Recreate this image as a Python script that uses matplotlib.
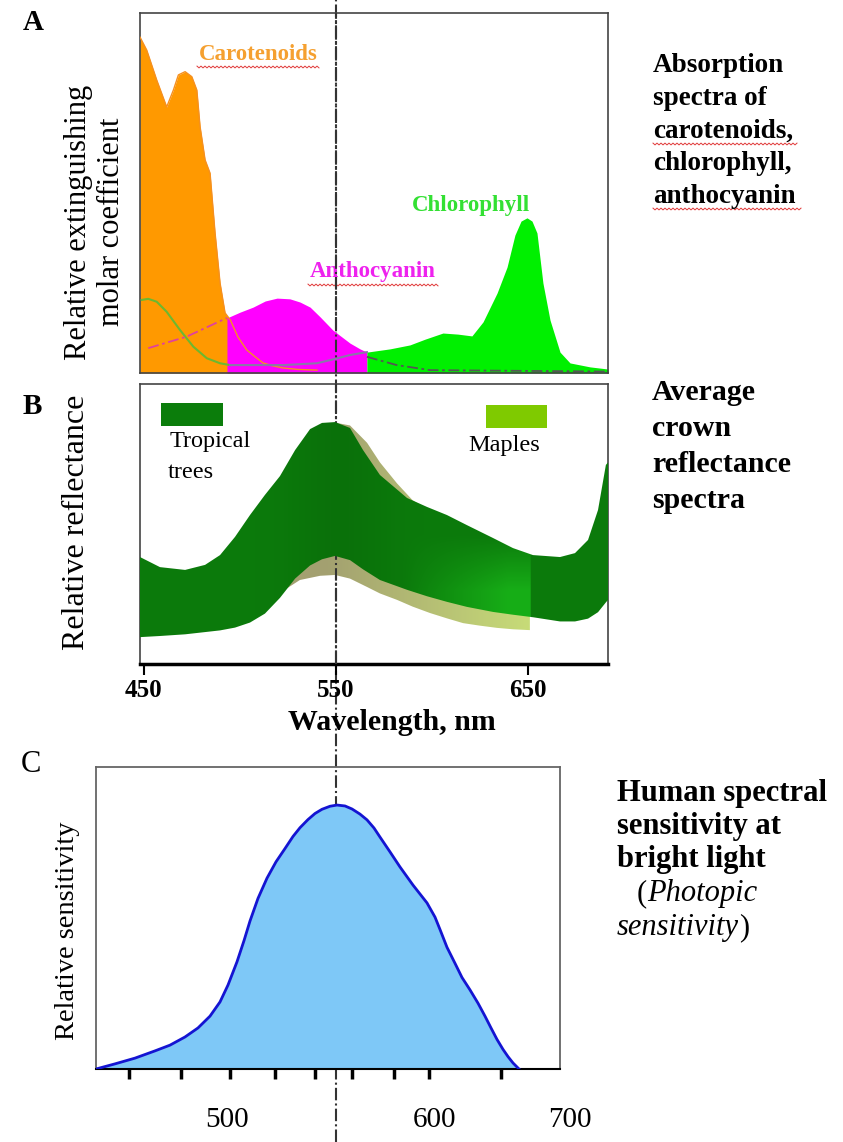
import numpy as np
import matplotlib
matplotlib.use('Agg')
import matplotlib.pyplot as plt
from matplotlib.patches import Rectangle, PathPatch
from matplotlib.transforms import blended_transform_factory

plt.rcParams['font.family'] = ['Liberation Serif', 'DejaVu Serif']

# ---------------- data ----------------
# A: absorption spectra, wavelength in nm, relative extinction 0..1
car_nm = [448, 451.5, 456.7, 461.9, 465.4, 468, 471.5, 475, 477.6, 479.3, 481.9, 484.5,
          487.1, 489.7, 492.3, 495.1, 499, 503.6, 508, 512.1, 517, 522.5, 530, 540.2]
car_val = [0.933, 0.897, 0.814, 0.739, 0.786, 0.828, 0.837, 0.823, 0.786, 0.684, 0.592, 0.555,
           0.389, 0.25, 0.167, 0.147, 0.1, 0.064, 0.045, 0.028, 0.02, 0.014, 0.01, 0.008]

anth_nm = [493.3, 500.1, 506.9, 513.2, 519.4, 526.1, 531.4, 536.6, 541.8, 548.5, 557.4, 562.6, 566.2]
anth_val = [0.153, 0.169, 0.183, 0.2, 0.208, 0.206, 0.197, 0.183, 0.156, 0.119, 0.083, 0.067, 0.058]

chl_nm = [566.2, 578.2, 588.6, 596.5, 605.8, 613.6, 620.9, 626.7, 634, 639.2, 643.3, 646.5,
          649.6, 652.2, 654.8, 657.9, 661.6, 666.8, 672, 682.4, 691.8]
chl_val = [0.058, 0.067, 0.078, 0.094, 0.111, 0.108, 0.103, 0.142, 0.222, 0.294, 0.383, 0.422,
           0.431, 0.422, 0.389, 0.25, 0.147, 0.058, 0.028, 0.017, 0.011]

# thin outlines in A
chl_soret_nm = [448.9, 452.3, 456.7, 461.9, 468.9, 475.8, 482.8, 489.7, 494.9]
chl_soret_val = [0.203, 0.206, 0.198, 0.17, 0.119, 0.073, 0.041, 0.027, 0.022]
chl_mid_nm = [494.9, 507, 522.7, 540.1, 548.7, 557.4, 566.2]
chl_mid_val = [0.022, 0.022, 0.022, 0.027, 0.038, 0.05, 0.058]
anth_left_nm = [452.3, 472.3, 493.3]
anth_left_val = [0.069, 0.101, 0.153]
anth_right_nm = [566.2, 581.7, 599.1, 691.8]
anth_right_val = [0.045, 0.022, 0.008, 0.004]

# B: crown reflectance bands (lower / upper edge)
trop_nm = [448, 458.4, 471.5, 481.9, 489.7, 497.5, 505.3, 513.1, 520.9, 528.8, 536.6, 542.8,
           549.6, 557.4, 564.2, 573, 587.1, 597.5, 607.9, 618.3, 631.9, 642.3, 652.7, 666.8,
           674.6, 681.4, 686.6, 690.7, 691.8]
trop_hi = [0.382, 0.346, 0.336, 0.354, 0.389, 0.454, 0.532, 0.604, 0.671, 0.764, 0.839, 0.861,
           0.864, 0.843, 0.764, 0.675, 0.593, 0.561, 0.532, 0.496, 0.45, 0.414, 0.389, 0.382,
           0.396, 0.443, 0.55, 0.711, 0.72]
trop_lo = [0.096, 0.1, 0.106, 0.114, 0.12, 0.13, 0.148, 0.18, 0.236, 0.305, 0.352, 0.374,
           0.386, 0.371, 0.338, 0.3, 0.265, 0.242, 0.222, 0.204, 0.186, 0.176, 0.167, 0.152,
           0.152, 0.162, 0.185, 0.22, 0.229]

maple_nm = [500, 520.9, 531.3, 541.8, 549.6, 557.4, 566.3, 573, 581.9, 590, 599.1, 607.9,
            616.3, 625, 634, 642.3, 651.1]
maple_hi = [0.3, 0.55, 0.74, 0.835, 0.862, 0.852, 0.79, 0.72, 0.645, 0.585, 0.545, 0.515,
            0.49, 0.46, 0.43, 0.405, 0.38]
maple_lo = [0.15, 0.254, 0.3, 0.315, 0.318, 0.305, 0.275, 0.252, 0.229, 0.205, 0.182, 0.163,
            0.146, 0.137, 0.129, 0.124, 0.121]
b_ticks = [450, 550, 650]

# C: photopic sensitivity
sens_nm = [434.5, 444, 454, 464, 471.5, 479, 485.5, 491.5, 496.5, 500.5, 505, 508.5, 511.5,
           515.5, 520, 524.5, 529, 533, 536.5, 540.5, 544, 547.5, 551.5, 555, 559, 562.5,
           566.5, 570, 573.5, 576.5, 581.5, 586.5, 593, 600, 604, 606.5, 610, 614, 617.5,
           621.5, 625.5, 629, 632, 635, 638, 640.5, 643, 646]
sens_val = [0.0, 0.017, 0.036, 0.06, 0.079, 0.106, 0.136, 0.175, 0.222, 0.278, 0.355, 0.425,
            0.49, 0.565, 0.632, 0.686, 0.73, 0.77, 0.799, 0.826, 0.846, 0.86, 0.87, 0.874,
            0.871, 0.861, 0.844, 0.825, 0.798, 0.768, 0.719, 0.669, 0.609, 0.55, 0.503, 0.462,
            0.403, 0.35, 0.303, 0.262, 0.218, 0.175, 0.136, 0.098, 0.065, 0.041, 0.02, 0.0]
c_ticks = [451, 477, 501.4, 523.8, 544, 562.7, 583.3, 600.8, 636.8]
c_label_nm = [500, 604, 671.5]
c_label_txt = ['500', '600', '700']

ref_nm = 550   # dash-dot reference line

# ---------------- figure ----------------
W, H = 843, 1142
fig = plt.figure(figsize=(W / 100, H / 100), dpi=100)


def px_axes(left, top, right, bottom):
    ax = fig.add_axes([left / W, 1 - bottom / H, (right - left) / W, (bottom - top) / H])
    ax.set_zorder(1)
    ax.patch.set_visible(False)
    return ax


bg = fig.add_axes([0, 0, 1, 1])
bg.set_zorder(0)
bg.set_xlim(0, W)
bg.set_ylim(H, 0)
bg.axis('off')

ax_a = px_axes(140, 13, 608, 373)
ax_b = px_axes(140, 384, 608, 664)
ax_c = px_axes(96, 767, 560, 1069)

dash = (0, (6, 1.5, 1, 1.5))
bg.plot([ref_nm, ref_nm], [0, 1], transform=blended_transform_factory(ax_a.transData, bg.transAxes),
        color='#333333', lw=1.5, ls=dash, clip_on=False)


def wavy(x0, x1, y):
    xs = np.arange(x0, x1, 2.0)
    ys = y + np.where(np.arange(len(xs)) % 2 == 0, -0.9, 0.9)
    bg.plot(xs, ys, color='#E03838', lw=0.7)


def shaded_band(ax, x, lo, hi, colour_fn, zorder):
    band = ax.fill_between(x, lo, hi, facecolor='none', edgecolor='none')
    clip = PathPatch(band.get_paths()[0], transform=ax.transData, facecolor='none', edgecolor='none')
    ax.add_patch(clip)
    gx = np.linspace(x[0], x[-1], 400)
    gy = np.linspace(0, 1, 200)
    X, Y = np.meshgrid(gx, gy)
    im = ax.imshow(colour_fn(X, Y), extent=(gx[0], gx[-1], 0, 1), origin='lower',
                   aspect='auto', interpolation='bilinear', zorder=zorder)
    im.set_clip_path(clip)


# ---------------- panel A ----------------
ax_a.fill_between(car_nm, 0, car_val, color='#FF9900', lw=0, zorder=1)
ax_a.plot(car_nm, car_val, color='#F59020', lw=1, zorder=3)
ax_a.fill_between(anth_nm, 0, anth_val, color='#FF00FF', lw=0, zorder=2)
ax_a.fill_between(chl_nm, 0, chl_val, color='#00F000', lw=0, zorder=2)
ax_a.plot(chl_soret_nm, chl_soret_val, color='#6CB830', lw=1.5, zorder=3)
ax_a.plot(chl_mid_nm, chl_mid_val, color='#8A78A8', lw=1.5, zorder=3)
ax_a.plot(anth_left_nm, anth_left_val, color='#E0409F', lw=1.3, ls=(0, (6, 2, 1.5, 2)), zorder=3)
ax_a.plot(anth_right_nm, anth_right_val, color='#555555', lw=1.3, ls=(0, (6, 2, 1.5, 2)), zorder=3)
ax_a.axvline(ref_nm, color='#333333', lw=1.5, ls=dash, zorder=5)
ax_a.set_xlim(448, 691.8)
ax_a.set_ylim(0, 1)
ax_a.set_xticks([])
ax_a.set_yticks([])
for s in ax_a.spines.values():
    s.set_color('#444444')
    s.set_linewidth(1.2)


# ---------------- panel B ----------------
def maple_colour(X, Y):
    t = np.clip((X - 545) / 105, 0, 1)[..., None]
    left = np.array([0.64, 0.63, 0.44])
    right = np.array([0.78, 0.86, 0.47])
    return left * (1 - t) + right * t


def tropical_colour(X, Y):
    base = np.array([0.045, 0.48, 0.045])
    dark = np.array([0.035, 0.42, 0.035])
    bright = np.array([0.09, 0.68, 0.09])
    d = np.exp(-((X - 552) / 25) ** 2)[..., None] * 0.6
    w = (np.clip((X - 585) / 55, 0, 1) * (X <= 651.5) * np.clip((0.46 - Y) / 0.2, 0, 1))[..., None]
    c = base * (1 - d) + dark * d
    return c * (1 - w) + bright * w


shaded_band(ax_b, maple_nm, maple_lo, maple_hi, maple_colour, 2)
ax_b.axvline(ref_nm, color='#333333', lw=1.5, ls=dash, zorder=3)
shaded_band(ax_b, trop_nm, trop_lo, trop_hi, tropical_colour, 4)
ax_b.set_xlim(448, 691.8)
ax_b.set_ylim(0, 1)
ax_b.set_yticks([])
ax_b.set_xticks(b_ticks)
ax_b.set_xticklabels([str(t) for t in b_ticks], fontsize=18, fontweight='bold')
ax_b.tick_params(axis='x', direction='out', length=8, width=1.5, pad=3)
for s in ['left', 'top', 'right']:
    ax_b.spines[s].set_color('#444444')
    ax_b.spines[s].set_linewidth(1.2)
ax_b.spines['bottom'].set_linewidth(2.5)
ax_b.spines['bottom'].set_color('black')

# legend swatches
bg.add_patch(Rectangle((161, 403), 62, 23, color='#0B7D0B', lw=0))
bg.add_patch(Rectangle((486, 405), 61, 23, color='#7FCA00', lw=0))
bg.text(170, 442, 'Tropical', fontsize=17.5, ha='left', va='center')
bg.text(168, 472, 'trees', fontsize=17.5, ha='left', va='center')
bg.text(468, 445, 'Maples', fontsize=17.5, ha='left', va='center')

# ---------------- panel C ----------------
ax_c.fill_between(sens_nm, 0, sens_val, color='#7EC8F7', lw=0, zorder=2)
ax_c.plot(sens_nm, sens_val, color='#1414D2', lw=2, zorder=3, solid_joinstyle='round')
ax_c.set_xlim(434.5, 666.5)
ax_c.set_ylim(0, 1)
ax_c.set_yticks([])
ax_c.set_xticks(c_ticks)
ax_c.tick_params(axis='x', direction='out', length=7, width=2.5, labelbottom=False)
for s in ['left', 'top', 'right']:
    ax_c.spines[s].set_color('#666666')
    ax_c.spines[s].set_linewidth(1.3)
ax_c.spines['bottom'].set_color('black')
ax_c.spines['bottom'].set_linewidth(1.5)
lab_tr = blended_transform_factory(ax_c.transData, ax_c.transAxes)
for nm, txt in zip(c_label_nm, c_label_txt):
    ax_c.text(nm, -0.169, txt, transform=lab_tr, fontsize=21, ha='center', va='center', clip_on=False)

# ---------------- free text ----------------
bg.text(33, 23, 'A', fontsize=21, fontweight='bold', ha='center', va='center')
bg.text(32, 406, 'B', fontsize=21, fontweight='bold', ha='center', va='center')
bg.text(31, 764, 'C', fontsize=22, ha='center', va='center')

bg.text(95, 222, 'Relative extinguishing\nmolar coefficient', fontsize=22, rotation=90,
        ha='center', va='center', linespacing=1.15)
bg.text(76, 522, 'Relative reflectance', fontsize=23, rotation=90, ha='center', va='center')
bg.text(67, 931, 'Relative sensitivity', fontsize=20.5, rotation=90, ha='center', va='center')
bg.text(392, 722, 'Wavelength, nm', fontsize=21.5, fontweight='bold', ha='center', va='center')

bg.text(258, 55, 'Carotenoids', fontsize=16.5, fontweight='bold', color='#F5A030', ha='center', va='center')
wavy(197, 321, 67)
bg.text(373, 272, 'Anthocyanin', fontsize=16.5, fontweight='bold', color='#EE22EE', ha='center', va='center')
wavy(308, 440, 285)
bg.text(471, 205, 'Chlorophyll', fontsize=16.5, fontweight='bold', color='#33E033', ha='center', va='center')

for i, line in enumerate(['Absorption', 'spectra of', 'carotenoids,', 'chlorophyll,', 'anthocyanin']):
    bg.text(653, 66 + i * 32.6, line, fontsize=19.5, fontweight='bold', ha='left', va='center')
wavy(653, 798, 144)
wavy(653, 802, 209)

for i, line in enumerate(['Average', 'crown', 'reflectance', 'spectra']):
    bg.text(652, 393 + i * 36, line, fontsize=21.5, fontweight='bold', ha='left', va='center')

for i, line in enumerate(['Human spectral', 'sensitivity at', 'bright light']):
    bg.text(617, 793 + i * 33.5, line, fontsize=22, fontweight='bold', ha='left', va='center')
t_open = bg.text(637, 894, '(', fontsize=22, ha='left', va='center')
bg.annotate('Photopic', xy=(1, 0), xycoords=t_open, fontsize=22, style='italic', ha='left', va='bottom')
t_sens = bg.text(617, 928, 'sensitivity', fontsize=22, style='italic', ha='left', va='center')
bg.annotate(')', xy=(1, 0), xycoords=t_sens, fontsize=22, ha='left', va='bottom')

fig.savefig('out.png', dpi=100)
